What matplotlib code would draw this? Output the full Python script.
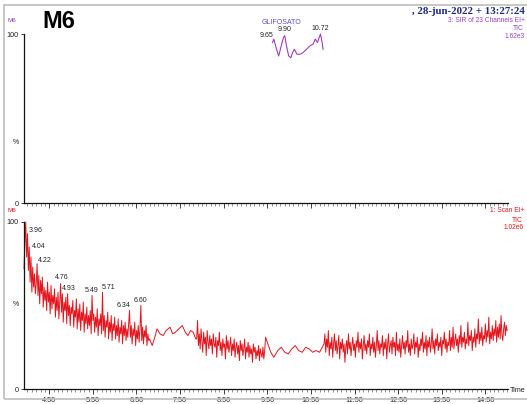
import numpy as np
import matplotlib
matplotlib.use("Agg")
import matplotlib.pyplot as plt
from matplotlib.patches import Rectangle

# ---------------- data ----------------
# Top trace: SIR of 23 channels (GLIFOSATO), relative %
sir_time = [9.62, 9.65, 9.70, 9.76, 9.82, 9.87, 9.90, 9.94, 9.99, 10.04, 10.08, 10.12,
            10.18, 10.25, 10.32, 10.40, 10.48, 10.55, 10.60, 10.65, 10.69, 10.72, 10.75, 10.78]
sir_vals = [95, 97, 92, 87, 93, 98, 99, 93, 87, 86, 89, 91,
            88, 88, 89, 91, 93, 94, 97, 95, 98, 100, 96, 91]
sir_peak_times = [9.65, 9.90, 10.72]
sir_peak_labels = ["9.65", "9.90", "10.72"]

# Bottom trace: Scan EI+ TIC, relative %  (dense scan segments, 0.02 min spacing)
segA_range = (3.92, 6.78)
segA_vals = [72, 88, 100, 79, 93, 71, 85, 64, 79, 58,
             73, 61, 69, 57, 63, 75, 56, 68, 51, 65,
             57, 67, 49, 61, 53, 59, 47, 64, 52, 58,
             45, 62, 48, 56, 51, 60, 43, 55, 47, 58,
             42, 53, 63, 46, 57, 40, 52, 47, 55, 39,
             57, 44, 50, 38, 49, 45, 53, 37, 47, 43,
             54, 36, 48, 40, 51, 35, 46, 41, 52, 34,
             45, 39, 49, 36, 44, 38, 47, 33, 56, 41,
             45, 34, 43, 37, 48, 32, 42, 38, 45, 33,
             58, 35, 44, 31, 41, 37, 46, 30, 40, 34,
             44, 29, 39, 35, 43, 30, 38, 32, 42, 28,
             37, 33, 41, 27, 38, 32, 40, 29, 36, 31,
             39, 47, 31, 38, 27, 36, 32, 40, 26, 35,
             30, 38, 28, 36, 50, 29, 37, 27, 35, 31,
             38, 26, 33, 29]

segB_time = [6.80, 6.86, 6.92, 6.97, 7.04, 7.11, 7.18, 7.27, 7.33, 7.39, 7.47, 7.55,
             7.62, 7.68, 7.74, 7.80, 7.86]
segB_vals = [30, 26, 31, 36, 33, 32, 35, 37, 33, 34, 36, 38, 34, 32, 35, 34, 30]

segC_range = (7.88, 9.46)
segC_vals = [30, 41, 26, 33, 24, 36, 29, 22, 34, 27,
             31, 20, 35, 28, 24, 32, 26, 30, 21, 33,
             27, 25, 31, 19, 29, 26, 34, 23, 28, 20,
             30, 25, 27, 18, 32, 24, 29, 22, 26, 31,
             20, 27, 23, 30, 19, 25, 28, 21, 26, 17,
             29, 23, 27, 20, 24, 30, 18, 25, 22, 28,
             19, 26, 21, 24, 16, 27, 22, 25, 18, 23,
             20, 26, 17, 24, 21, 19, 25, 18, 23, 31]

segD_time = [9.50, 9.58, 9.65, 9.74, 9.82, 9.90, 9.98, 10.06, 10.14, 10.22, 10.30,
             10.38, 10.46, 10.54, 10.62, 10.70, 10.78]
segD_vals = [28, 22, 19, 23, 25, 22, 21, 24, 26, 23, 22, 25, 24, 22, 23, 22, 26]

segE_range = (10.80, 15.00)
segE_vals = [27, 33, 22, 30, 25, 35, 20, 28, 24, 31,
             19, 27, 33, 23, 29, 21, 26, 32, 18, 28,
             24, 30, 22, 27, 16, 25, 29, 21, 33, 24,
             28, 20, 26, 31, 23, 27, 19, 29, 25, 34,
             22, 28, 24, 30, 18, 26, 32, 23, 27, 21,
             29, 25, 33, 20, 27, 24, 31, 22, 28, 19,
             26, 35, 23, 29, 21, 27, 25, 32, 20, 28,
             24, 30, 18, 27, 33, 22, 26, 29, 21, 31,
             25, 28, 20, 34, 23, 27, 22, 30, 19, 26,
             32, 24, 28, 21, 29, 25, 35, 22, 27, 20,
             30, 24, 26, 33, 21, 28, 25, 31, 19, 27,
             23, 30, 26, 34, 22, 28, 24, 32, 20, 29,
             25, 31, 22, 27, 36, 24, 29, 21, 30, 26,
             33, 23, 28, 25, 31, 20, 29, 27, 34, 24,
             30, 22, 28, 26, 35, 23, 31, 25, 37, 24,
             29, 33, 26, 30, 22, 32, 27, 38, 25, 31,
             28, 34, 24, 30, 27, 40, 26, 32, 29, 35,
             23, 31, 28, 36, 25, 33, 30, 42, 27, 34,
             29, 37, 26, 32, 30, 39, 28, 35, 31, 43,
             27, 34, 30, 38, 29, 36, 32, 41, 28, 37,
             31, 39, 30, 44, 33, 29, 36, 40, 32, 38,
             35]

tic_peak_times = [3.96, 4.04, 4.22, 4.76, 4.92, 5.48, 5.72, 6.34, 6.60]
tic_peak_labels = ["3.96", "4.04", "4.22", "4.76", "4.93", "5.49", "5.71", "6.34", "6.60"]

xtick_vals = [4.5, 5.5, 6.5, 7.5, 8.5, 9.5, 10.5, 11.5, 12.5, 13.5, 14.5]
xtick_labels = ["4.50", "5.50", "6.50", "7.50", "8.50", "9.50", "10.50", "11.50", "12.50", "13.50", "14.50"]

# ---------------- build series ----------------
def dense(rng, vals):
    return np.linspace(rng[0], rng[1], len(vals)), np.array(vals, float)

tA, yA = dense(segA_range, segA_vals)
tC, yC = dense(segC_range, segC_vals)
tE, yE = dense(segE_range, segE_vals)
tic_t = np.concatenate([tA, segB_time, tC, segD_time, tE])
tic_y = np.concatenate([yA, segB_vals, yC, segD_vals, yE])

# ---------------- figure ----------------
W, H = 527, 404
fig = plt.figure(figsize=(W / 100, H / 100), dpi=100)
plt.rcParams['font.family'] = ['Liberation Sans', 'DejaVu Sans']

def ax_rect(left, right, top, bottom):
    return [left / W, 1 - bottom / H, (right - left) / W, (bottom - top) / H]

XL, XR = 3.92, 15.02
ax_left, ax_right = 24, 508

axT = fig.add_axes(ax_rect(ax_left, ax_right, 34, 203))
axB = fig.add_axes(ax_rect(ax_left, ax_right, 222, 389))

for ax in (axT, axB):
    ax.set_xlim(XL, XR)
    ax.set_ylim(0, 100)
    ax.patch.set_alpha(0)
    for s in ("top", "right"):
        ax.spines[s].set_visible(False)
    for s in ("left", "bottom"):
        ax.spines[s].set_linewidth(0.9)
        ax.spines[s].set_color("#111111")
    ax.set_xticks(xtick_vals)
    ax.set_xticks(np.arange(4.0, 15.01, 0.1), minor=True)
    ax.set_yticks([0, 100])
    ax.set_yticklabels(["0", "100"])
    ax.tick_params(axis="x", which="major", length=3.5, width=0.6, direction="out",
                   labelsize=5.2, pad=2, colors="#222222")
    ax.tick_params(axis="x", which="minor", length=1.8, width=0.4, direction="out", colors="#444444")
    ax.tick_params(axis="y", which="major", length=2.5, width=0.6, labelsize=5.2, pad=1.5,
                   colors="#222222")

axT.set_xticklabels([])
axB.set_xticklabels(xtick_labels)

# traces
purple = "#a13dc0"
red = "#e3161d"
axT.plot(sir_time, sir_vals, color=purple, lw=0.8, clip_on=False)
axB.plot(tic_t, tic_y, color=red, lw=0.7, clip_on=False)

# peak labels bottom
tic_offsets = [(10, -9), (9, 1), (8, 3), (1, 6), (1, 5), (0, 5), (6, 5), (-6, 5), (0, 5)]
for t, lab, off in zip(tic_peak_times, tic_peak_labels, tic_offsets):
    yv = np.interp(t, tic_t, tic_y)
    axB.annotate(lab, (t, yv), xytext=off, textcoords="offset pixels", fontsize=5,
                 ha="center", va="center", color="#222222", annotation_clip=False)

sir_offsets = [(-7, 4), (0, 6), (0, 6)]
for t, lab, off in zip(sir_peak_times, sir_peak_labels, sir_offsets):
    yv = np.interp(t, sir_time, sir_vals)
    axT.annotate(lab, (t, yv), xytext=off, textcoords="offset pixels", fontsize=5,
                 ha="center", va="center", color="#222222", annotation_clip=False)

# ---------------- texts (figure pixel positions) ----------------
def ftext(x, y, s, **kw):
    fig.text(x / W, 1 - y / H, s, **kw)

ftext(8, 20, "M6", fontsize=4.5, color="#8e3bb8", va="center", ha="left")
ftext(42, 21, "M6", fontsize=17, fontweight="bold", color="black", va="center", ha="left")
ftext(16, 143, "%", fontsize=5, color="#222222", va="center", ha="center")
ftext(282, 22, "GLIFOSATO", fontsize=5, color="#5a4fc4", va="center", ha="center")
ftext(525, 11, ", 28-jun-2022 + 13:27:24", fontsize=7.8, fontweight="bold",
      family="Liberation Serif", color="#1f2a80", va="center", ha="right")
ftext(525, 21, "3: SIR of 23 Channels EI+", fontsize=4.8, color="#9b3fc0", va="center", ha="right")
ftext(524, 29, "TIC", fontsize=4.8, color="#9b3fc0", va="center", ha="right")
ftext(525, 37, "1.62e3", fontsize=4.8, color="#9b3fc0", va="center", ha="right")

ftext(8, 211, "M6", fontsize=4.5, color=red, va="center", ha="left")
ftext(16, 304, "%", fontsize=5, color="#222222", va="center", ha="center")
ftext(524, 211, "1: Scan EI+", fontsize=4.8, color=red, va="center", ha="right")
ftext(523, 220, "TIC", fontsize=4.8, color=red, va="center", ha="right")
ftext(524, 228, "1.02e6", fontsize=4.8, color=red, va="center", ha="right")
ftext(510, 391, "Time", fontsize=5.2, color="#222222", va="center", ha="left")

# outer frame
fig.patches.append(Rectangle((4 / W, 1 - 399 / H), 530 / W, (399 - 5) / H, transform=fig.transFigure,
                             fill=False, edgecolor="#bdbdbd", lw=1.2))

fig.savefig("out.png", dpi=100)
